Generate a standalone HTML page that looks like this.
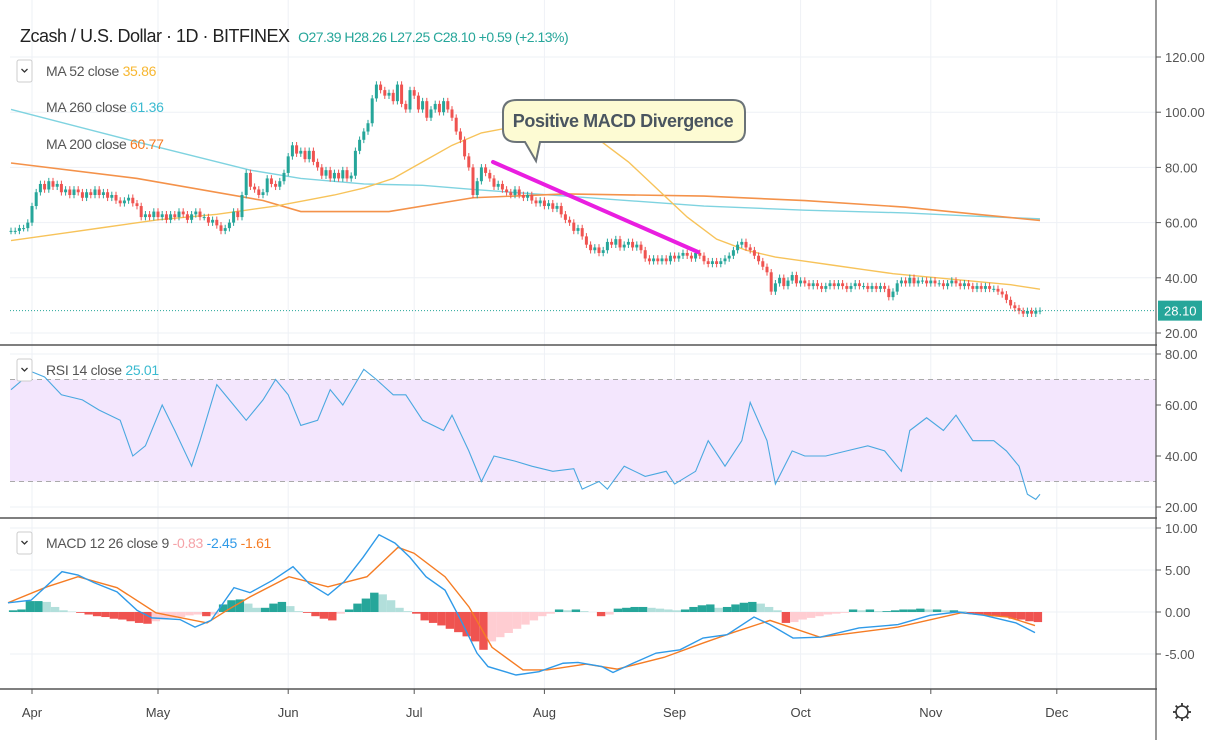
<!DOCTYPE html>
<html><head><meta charset="utf-8">
<style>
html,body{margin:0;padding:0;background:#fff;}
svg{display:block;font-family:"Liberation Sans",sans-serif;}
</style></head>
<body>
<svg id="chart" width="1220" height="740" viewBox="0 0 1220 740"></svg>
<script>
const closes=[57,57,58,58,60,66,71,
74,72,75,73,74,71,72,
70,72,71,69,71,70,72,
70,71,69,70,68,67,68,
69,67,66,62,63,62,64,
62,63,61,63,62,64,63,
61,63,64,62,62,60,61,
59,57,58,60,64,62,70,
78,73,72,70,71,76,74,
73,75,78,84,88,85,86,
83,86,82,80,77,79,76,
78,76,79,76,77,86,90,
93,96,105,110,108,106,107,
104,110,103,101,108,106,101,
104,98,101,103,100,104,101,
98,93,90,84,80,70,75,
80,78,76,73,74,72,71,
70,72,70,69,70,68,67,
68,66,67,65,66,63,61,
60,57,58,55,52,50,51,
49,50,53,52,54,51,52,
53,51,52,50,47,46,47,
46,47,46,48,47,48,49,
48,47,49,48,46,45,46,
45,46,47,48,50,52,53,
51,50,48,46,44,42,35,
38,40,37,39,41,38,39,
38,37,38,37,36,37,38,
37,38,37,36,37,38,37,
37,36,37,36,37,36,33,
35,38,39,38,40,38,39,
39,38,39,38,38,37,38,
39,38,37,38,37,36,37,
36,37,36,36,35,34,32,
30,29,28,27,28,27,28,
28.1];
const ma52Days=[0,7,14,21,28,35,42,49,56,63,70,77,84,91,98,105,112,119,126,133,140,147,154,161,168,175,182,189,196,203,210,217,224,231,238,245];
const ma52Vals=[53.5,55,56.5,58,59.5,61,62,63,64.5,66,68,70,72.5,76,82,88,92.5,94.5,94.5,93,90,82,72,62,54,50,47.5,46,44.5,43,41.5,40.5,39.5,38.5,37.5,35.86];
const ma260Days=[0,28,57,69,84,98,110,132,165,189,213,227,245];
const ma260Vals=[101,90,79,76,74,73.5,72,69.6,66,64.5,63.5,62.5,61.36];
const ma200Days=[0,30,60,69,90,110,132,165,189,213,230,245];
const ma200Vals=[81.6,76,68,64,64,69,70.4,69.6,68,65.6,63,60.77];
const rsiDays=[0,5,8,12,17,21,26,29,32,36,39,43,45,49,53,56,60,63,66,69,73,76,79,84,87,91,94,98,103,105,109,112,115,120,124,129,134,136,140,142,146,151,156,158,163,166,170,174,176,180,182,186,189,194,199,204,208,212,214,218,222,225,229,234,237,240,242,244,245];
const rsiVals=[66,73,71,64,62,58,54,40,44,60,50,36,46,68,60,54,62,70,64,52,54,66,60,74,70,64,64,54,50,56,42,30,40,38,36,34,35,27,30,27,36,32,34,29,34,46,36,46,61,46,29,42,40,40,42,44,42,34,50,55,50,56,46,46,42,36,25,23,25.01];
const macdX=[8,31,62,78,94,117,137,152,180,195,211,234,250,273,293,309,328,344,363,379,395,410,426,445,461,477,488,516,539,563,578,602,613,633,656,680,703,727,754,770,793,820,859,898,930,957,984,1016,1035];
const macdVals=[1.1,1.4,4.8,4.4,3.5,2.4,0.2,-0.7,-0.9,-1.8,-1,2.9,2.3,3.8,5.4,3.4,2,3.6,6.5,9.2,8.2,6.5,4.2,2.6,-1,-4.9,-6.5,-7.5,-7.1,-6.1,-6,-6.5,-7.2,-6.1,-4.9,-4.5,-3.1,-2.7,-0.6,-1.5,-3.1,-3,-1.9,-1.5,-0.4,0,-0.4,-1.3,-2.45];
const sigX=[8,47,78,117,156,207,227,250,289,328,367,398,414,445,469,492,523,547,586,617,664,703,734,770,820,898,961,1008,1035];
const sigVals=[1.1,3,4.2,2.9,-0.1,-1.3,0.2,1.8,4.2,3,4.2,7.7,7,4.2,0.6,-4.2,-6.9,-6.9,-6.2,-6.8,-5.4,-3.7,-2.4,-1,-3,-1.8,-0.1,-0.6,-1.61];
const histVals=[0.2,0.3,1.3,1.3,1.2,0.6,0.2,0.05,-0.1,-0.3,-0.5,-0.6,-0.8,-0.9,-1.1,-1.3,-1.4,-1.1,-0.9,-0.7,-0.6,-0.4,-0.3,-0.5,-0.3,0.9,1.4,1.5,1.0,0.5,0.5,1.0,1.2,0.7,0.1,-0.1,-0.5,-0.8,-1.0,-0.2,0.3,1.0,1.6,2.3,2.1,1.4,0.5,0.1,-0.2,-1.0,-1.3,-1.6,-2.0,-2.4,-2.9,-3.5,-4.5,-3.5,-3.0,-2.5,-2.0,-1.5,-1.0,-0.5,-0.2,0.3,0.2,0.3,0.1,0,-0.5,-0.3,0.4,0.5,0.6,0.6,0.5,0.4,0.3,0.2,0.3,0.6,0.8,0.9,0.5,0.6,0.9,1.1,1.2,1.0,0.6,0.2,-1.3,-1.2,-0.9,-0.7,-0.5,-0.3,-0.2,-0.1,0.3,0.2,0.3,0.1,0.1,0.2,0.3,0.3,0.4,0.3,0.3,0.2,0.2,0.1,-0.2,-0.3,-0.4,-0.5,-0.6,-0.8,-0.9,-1.1,-1.2];
const priceTicks=[120,100,80,60,40,20];
const rsiTicks=[80,60,40,20];
const macdTicks=[10,5,0,-5];
const months=["Apr","May","Jun","Jul","Aug","Sep","Oct","Nov","Dec"];
const monthDays=[5,35,66,96,127,158,188,219,249];

const NS="http://www.w3.org/2000/svg";
const svg=document.getElementById('chart');
function mk(tag,attrs,parent){const e=document.createElementNS(NS,tag);for(const k in attrs)e.setAttribute(k,attrs[k]);(parent||svg).appendChild(e);return e;}
const xDay=d=>11+d*4.2;
const yP=v=>333-(v-20)*2.76;
const yR=v=>507-(v-20)*2.55;
const yM=v=>612-v*8.4;
const PL=10,PR=1156;

const grid=mk('g',{});


monthDays.forEach(d=>{mk('line',{x1:xDay(d),x2:xDay(d),y1:0,y2:689,stroke:'#eef1f6','stroke-width':1},grid);});
priceTicks.forEach(v=>mk('line',{x1:PL,x2:PR,y1:yP(v),y2:yP(v),stroke:'#eef1f6'},grid));
rsiTicks.forEach(v=>mk('line',{x1:PL,x2:PR,y1:yR(v),y2:yR(v),stroke:'#eef1f6'},grid));
macdTicks.forEach(v=>mk('line',{x1:PL,x2:PR,y1:yM(v),y2:yM(v),stroke:'#eef1f6'},grid));

function lineFrom(days,vals,yf,color,name,w){const p=mk('polyline',{points:days.map((d,i)=>xDay(d)+','+yf(vals[i])).join(' '),fill:'none',stroke:color,'stroke-width':w||1.4});
return p;}
lineFrom(ma260Days,ma260Vals,yP,'#7fd3e0','ma260-line');
lineFrom(ma200Days,ma200Vals,yP,'#f4924a','ma200-line',1.6);
lineFrom(ma52Days,ma52Vals,yP,'#f7c35a','ma52-line');
const cg=mk('g',{});


closes.forEach((c,i)=>{const o=i?closes[i-1]:c;const up=c>=o;const col=up?'#26a69a':'#ef5350';const x=xDay(i);
const hi=Math.max(o,c)+1.2,lo=Math.min(o,c)-1.2;
mk('line',{x1:x,x2:x,y1:yP(hi),y2:yP(lo),stroke:col,'stroke-width':1},cg);
const t=yP(Math.max(o,c)),b=yP(Math.min(o,c));
const r=mk('rect',{x:x-1.5,y:t,width:3,height:Math.max(1,b-t),fill:col},cg);
});
mk('line',{x1:PL,x2:PR,y1:yP(28.1),y2:yP(28.1),stroke:'#26a69a','stroke-dasharray':'1 2','stroke-width':1});
const dv=mk('line',{x1:493,y1:162,x2:698,y2:252,stroke:'#e91ee0','stroke-width':4,'stroke-linecap':'round'});

const cb=mk('path',{d:'M517,100 H733 Q745,100 745,112 V130 Q745,142 733,142 H540 L536,161 L525,142 H517 Q503,142 503,130 V112 Q503,100 517,100 Z',fill:'#fdfbd3',stroke:'#6b7378','stroke-width':2});

const ct=mk('text',{x:623,y:127,'text-anchor':'middle','font-size':18,'font-weight':'bold',fill:'#4a5560','letter-spacing':'-0.4'});ct.textContent='Positive MACD Divergence';


const band=mk('rect',{x:PL,y:yR(70),width:PR-PL,height:yR(30)-yR(70),fill:'#f3e6fd'});

[70,30].forEach(v=>mk('line',{x1:PL,x2:PR,y1:yR(v),y2:yR(v),stroke:'#aaa','stroke-dasharray':'5 4'}));
lineFrom(rsiDays,rsiVals,yR,'#4aa8e0','rsi-line',1.1);

const hg=mk('g',{});

histVals.forEach((v,i)=>{const p=i?histVals[i-1]:0;let col;
if(v>=0)col=v>=p?'#26a69a':'#b2dfdb';else col=v<=p?'#ef5350':'#ffcdd2';
const x=xDay(i*2)-2.1,y0=yM(0),y1=yM(v);
const r=mk('rect',{x:x,y:Math.min(y0,y1),width:8.4,height:Math.abs(y1-y0),fill:col},hg);
});
function lineX(xs,vals,color,name){const p=mk('polyline',{points:xs.map((x,i)=>x+','+yM(vals[i])).join(' '),fill:'none',stroke:color,'stroke-width':1.4});}
lineX(sigX,sigVals,'#f57c24','signal-line');
lineX(macdX,macdVals,'#2f9ae8','macd-line');

[345,518,689].forEach(y=>mk('line',{x1:0,x2:1220,y1:y,y2:y,stroke:'#555','stroke-width':1.5}));
mk('rect',{x:PR+1,y:0,width:64,height:740,fill:'#fff'});
mk('line',{x1:PR,x2:PR,y1:0,y2:740,stroke:'#555','stroke-width':1.2});
const ax=mk('g',{'font-size':13,fill:'#555'});

function tick(y,label){mk('line',{x1:PR,x2:PR+5,y1:y,y2:y,stroke:'#555'},ax);const t=mk('text',{x:PR+9,y:y+5},ax);t.textContent=label;}
priceTicks.forEach(v=>tick(yP(v),v.toFixed(2)));
rsiTicks.forEach(v=>tick(yR(v),v.toFixed(2)));
macdTicks.forEach(v=>tick(yM(v),v.toFixed(2)));
const pl=mk('rect',{x:PR+2,y:yP(28.1)-10,width:44,height:20,fill:'#26a69a'});

const plt=mk('text',{x:PR+8,y:yP(28.1)+5,'font-size':13,fill:'#fff'});plt.textContent='28.10';
const tx=mk('g',{'font-size':13,fill:'#444'});

months.forEach((m,i)=>{const x=xDay(monthDays[i]);mk('line',{x1:x,x2:x,y1:689,y2:694,stroke:'#555'},tx);const t=mk('text',{x:x,y:717,'text-anchor':'middle'},tx);t.textContent=m;});
const gear=mk('g',{});

mk('circle',{cx:1182,cy:712,r:6,fill:'none',stroke:'#333','stroke-width':1.5},gear);
for(let k=0;k<8;k++){const a=k*Math.PI/4;mk('line',{x1:1182+6*Math.cos(a),y1:712+6*Math.sin(a),x2:1182+9*Math.cos(a),y2:712+9*Math.sin(a),stroke:'#333','stroke-width':1.8},gear);}

const h=mk('text',{x:20,y:42,'font-size':18,fill:'#222','letter-spacing':'-0.5'});

h.innerHTML='Zcash / U.S. Dollar · 1D · BITFINEX <tspan font-size="14" fill="#26a69a" dx="4">O27.39 H28.26 L27.25 C28.10 +0.59 (+2.13%)</tspan>';
function legendBox(y,name){const r=mk('rect',{x:17,y:y-11,width:15,height:22,rx:2,fill:'#fff',stroke:'#ccc'});
mk('path',{d:`M21.5,${y-2} L24.5,${y+1} L27.5,${y-2}`,fill:'none',stroke:'#333','stroke-width':1.3});}
legendBox(71,'price-legend-toggle');
function legend(x,y,parts,name){const t=mk('text',{x:x,y:y,'font-size':14,fill:'#555','letter-spacing':'-0.3'});
t.innerHTML=parts.map(p=>`<tspan fill="${p[1]}">${p[0]}</tspan>`).join(' ');}
legend(46,76,[['MA 52 close','#555'],['35.86','#f7b731']],'legend-ma52');
legend(46,112,[['MA 260 close','#555'],['61.36','#3bbad0']],'legend-ma260');
legend(46,149,[['MA 200 close','#555'],['60.77','#f57c24']],'legend-ma200');
legendBox(370,'rsi-legend-toggle');
legend(46,375,[['RSI 14 close','#555'],['25.01','#3bbad0']],'legend-rsi');
legendBox(543,'macd-legend-toggle');
legend(46,548,[['MACD 12 26 close 9','#555'],['-0.83','#f5a3a8'],['-2.45','#2f9ae8'],['-1.61','#f57c24']],'legend-macd');
</script>
</body></html>
